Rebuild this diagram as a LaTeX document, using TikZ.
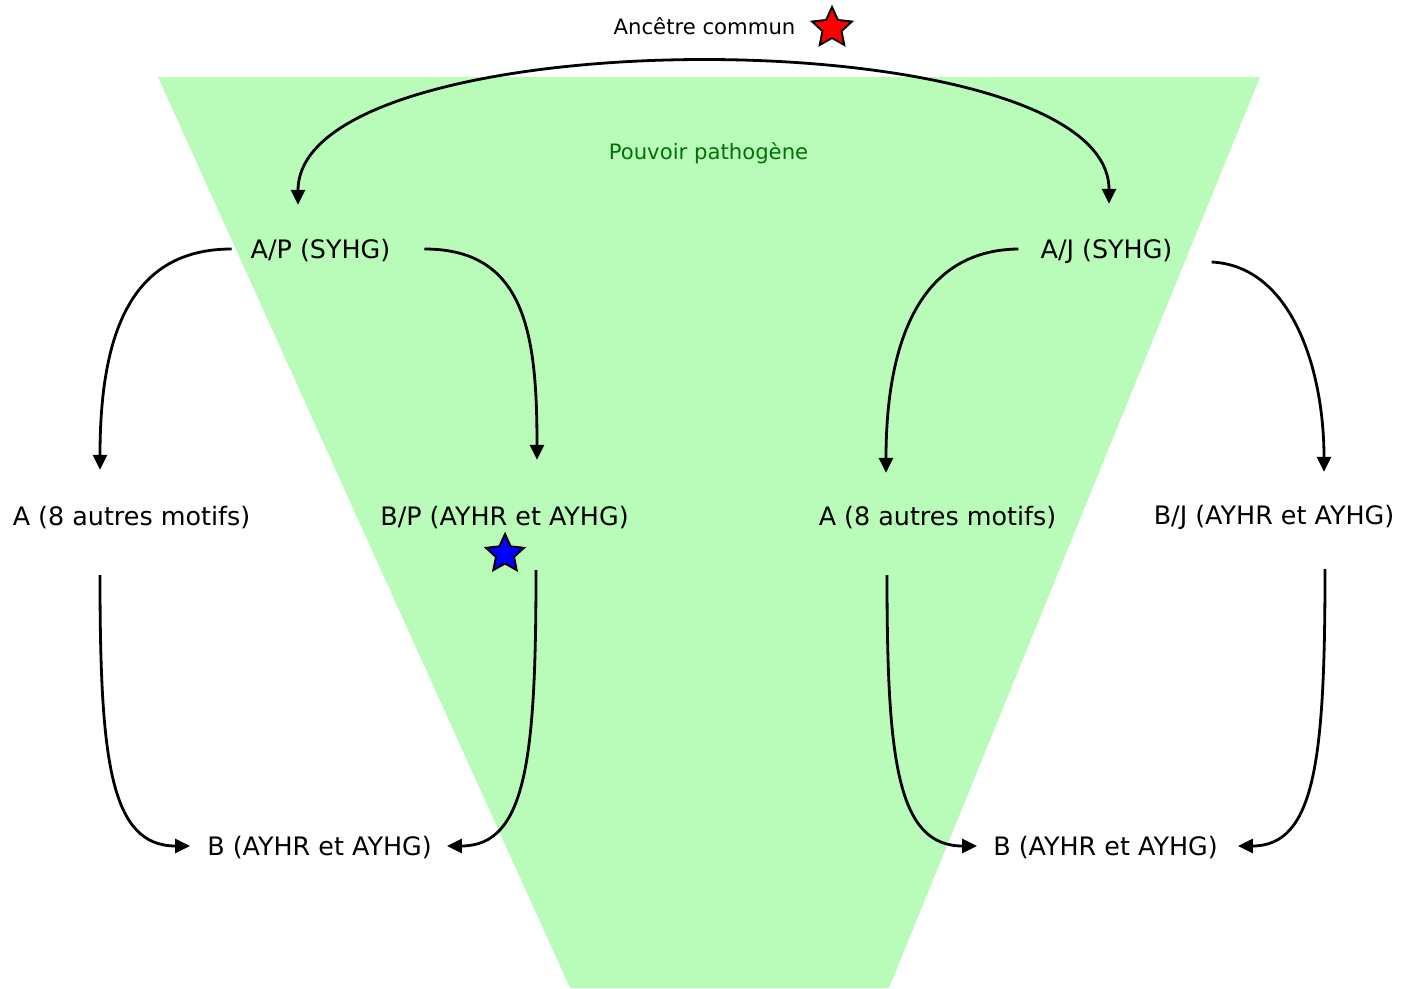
\documentclass[tikz,border=0pt]{standalone}
\usepackage{fontspec}
\setmainfont{DejaVu Sans}
\usetikzlibrary{arrows.meta,shapes.geometric}
\definecolor{zonegreen}{RGB}{185,251,185}
\definecolor{textgreen}{RGB}{0,115,0}
\tikzset{
  lbl/.style={inner sep=0pt, font=\fontsize{25.4}{30}\selectfont, text height=18pt, text depth=0pt},
  small/.style={inner sep=0pt, font=\fontsize{21.2}{25}\selectfont, text height=15pt, text depth=0pt},
  conn/.style={line width=2.8pt, -{Triangle[length=15pt,width=14pt]}},
  starmark/.style={star, star points=5, star point ratio=2.1, minimum size=42pt, inner sep=0pt, draw=black, line width=1.9pt}
}
\begin{document}
\begin{tikzpicture}[x=1pt,y=-1pt]
\useasboundingbox (0,0) rectangle (1413,988);
\fill[white] (0,0) rectangle (1413,988);
% pathogenic zone
\fill[zonegreen] (158,77) -- (1260,77) -- (889,988) -- (570,988) -- cycle;

\node[small] (anc) at (704.5,27) {Ancêtre commun};
\node[starmark, fill=red] (redstar) at (832,28) {};
\node[small, text=textgreen] (pouv) at (708.5,152) {Pouvoir pathogène};

\node[lbl] (ap) at (320.5,249) {A/P (SYHG)};
\node[lbl] (aj) at (1106.5,249) {A/J (SYHG)};
\node[lbl] (al) at (131.5,516) {A (8 autres motifs)};
\node[lbl] (bp) at (504.5,516) {B/P (AYHR et AYHG)};
\node[lbl] (ar) at (937.5,516) {A (8 autres motifs)};
\node[lbl] (bj) at (1274,515) {B/J (AYHR et AYHG)};
\node[lbl] (bl) at (319.5,846) {B (AYHR et AYHG)};
\node[lbl] (br) at (1105.5,846) {B (AYHR et AYHG)};
\node[starmark, fill=blue, minimum size=40pt] (bluestar) at (505,554) {};

% common ancestor arc (double headed)
\draw[line width=2.8pt, {Triangle[length=15pt,width=14pt]}-{Triangle[length=15pt,width=14pt]}]
  ([xshift=-22.5pt,yshift=35pt]ap.north) .. controls (298,16) and (1109,16) .. ([xshift=2.5pt,yshift=36pt]aj.north);

% from A/P
\draw[conn] ([xshift=-19pt]ap.west) .. controls (130,249) and (100,335) .. ([xshift=-31.5pt,yshift=37pt]al.north);
\draw[conn] ([xshift=34pt]ap.east) .. controls (526,249) and (537,335) .. ([xshift=32.5pt,yshift=47pt]bp.north);
% from A/J
\draw[conn] ([xshift=-22pt]aj.west) .. controls (918,250) and (886,345) .. ([xshift=-51.5pt,yshift=34pt]ar.north);
\draw[conn] ([xshift=39pt,yshift=-13pt]aj.east) .. controls (1292,266) and (1324,370) .. ([xshift=50pt,yshift=34pt]bj.north);

% to the B nodes
\draw[conn] ([xshift=-31.5pt,yshift=-50pt]al.south) .. controls (100,760) and (110,846) .. ([xshift=-17pt]bl.west);
\draw[conn] ([xshift=31.5pt,yshift=-45pt]bp.south) .. controls (536,760) and (526,846) .. ([xshift=15pt]bl.east);
\draw[conn] ([xshift=-50.5pt,yshift=-50pt]ar.south) .. controls (887,760) and (897,846) .. ([xshift=-16pt]br.west);
\draw[conn] ([xshift=51pt,yshift=-45pt]bj.south) .. controls (1325,760) and (1315,846) .. ([xshift=20pt]br.east);
\end{tikzpicture}
\end{document}
